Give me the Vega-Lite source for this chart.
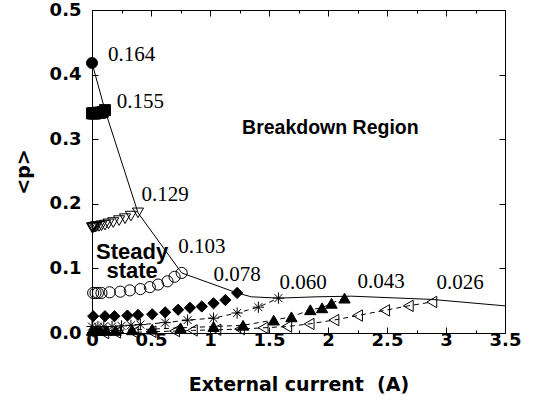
{
  "$schema": "https://vega.github.io/schema/vega-lite/v6.json",
  "width": 413,
  "height": 323,
  "autosize": {"type": "none"},
  "padding": {"left": 92, "top": 10, "right": 28, "bottom": 69},
  "background": "white",
  "config": {
    "view": {"stroke": "black", "strokeWidth": 1},
    "axis": {
      "labelFont": "DejaVu Sans", "labelFontWeight": "bold", "labelFontSize": 18, "labelColor": "black",
      "titleFont": "DejaVu Sans", "titleFontWeight": "bold", "titleFontSize": 19, "titleColor": "black",
      "domainColor": "black", "tickColor": "black", "grid": false
    }
  },
  "datasets": {
    "pts": [
      {"s": "c", "x": 0, "y": 0.418},
      {"s": "sq", "x": 0, "y": 0.340}, {"s": "sq", "x": 0.01, "y": 0.340}, {"s": "sq", "x": 0.02, "y": 0.340}, {"s": "sq", "x": 0.03, "y": 0.340},
      {"s": "sq", "x": 0.05, "y": 0.341}, {"s": "sq", "x": 0.07, "y": 0.341}, {"s": "sq", "x": 0.09, "y": 0.342}, {"s": "sq", "x": 0.11, "y": 0.345},
      {"s": "td", "x": 0, "y": 0.163}, {"s": "td", "x": 0.005, "y": 0.163}, {"s": "td", "x": 0.01, "y": 0.163}, {"s": "td", "x": 0.02, "y": 0.164},
      {"s": "td", "x": 0.03, "y": 0.164}, {"s": "td", "x": 0.04, "y": 0.165}, {"s": "td", "x": 0.06, "y": 0.165}, {"s": "td", "x": 0.08, "y": 0.166},
      {"s": "td", "x": 0.11, "y": 0.167}, {"s": "td", "x": 0.14, "y": 0.169}, {"s": "td", "x": 0.18, "y": 0.171}, {"s": "td", "x": 0.23, "y": 0.174},
      {"s": "td", "x": 0.28, "y": 0.177}, {"s": "td", "x": 0.33, "y": 0.181}, {"s": "td", "x": 0.39, "y": 0.186},
      {"s": "oc", "x": 0.01, "y": 0.062}, {"s": "oc", "x": 0.03, "y": 0.062}, {"s": "oc", "x": 0.05, "y": 0.062}, {"s": "oc", "x": 0.08, "y": 0.062},
      {"s": "oc", "x": 0.15, "y": 0.063}, {"s": "oc", "x": 0.24, "y": 0.064}, {"s": "oc", "x": 0.32, "y": 0.066}, {"s": "oc", "x": 0.41, "y": 0.068},
      {"s": "oc", "x": 0.49, "y": 0.071}, {"s": "oc", "x": 0.56, "y": 0.075}, {"s": "oc", "x": 0.64, "y": 0.080}, {"s": "oc", "x": 0.70, "y": 0.087},
      {"s": "oc", "x": 0.76, "y": 0.093},
      {"s": "d", "x": 0.01, "y": 0.026}, {"s": "d", "x": 0.11, "y": 0.026}, {"s": "d", "x": 0.19, "y": 0.026}, {"s": "d", "x": 0.30, "y": 0.027},
      {"s": "d", "x": 0.39, "y": 0.028}, {"s": "d", "x": 0.51, "y": 0.029}, {"s": "d", "x": 0.62, "y": 0.032}, {"s": "d", "x": 0.73, "y": 0.036},
      {"s": "d", "x": 0.83, "y": 0.039}, {"s": "d", "x": 0.93, "y": 0.041}, {"s": "d", "x": 1.03, "y": 0.046}, {"s": "d", "x": 1.13, "y": 0.051},
      {"s": "d", "x": 1.23, "y": 0.062},
      {"s": "st", "x": 0, "y": 0.010}, {"s": "st", "x": 0.05, "y": 0.010}, {"s": "st", "x": 0.10, "y": 0.010}, {"s": "st", "x": 0.17, "y": 0.010},
      {"s": "st", "x": 0.25, "y": 0.011}, {"s": "st", "x": 0.33, "y": 0.012}, {"s": "st", "x": 0.41, "y": 0.013}, {"s": "st", "x": 0.62, "y": 0.016},
      {"s": "st", "x": 0.81, "y": 0.020}, {"s": "st", "x": 1.03, "y": 0.023}, {"s": "st", "x": 1.23, "y": 0.031}, {"s": "st", "x": 1.41, "y": 0.040},
      {"s": "st", "x": 1.58, "y": 0.054},
      {"s": "tu", "x": 0, "y": 0.004}, {"s": "tu", "x": 0.03, "y": 0.004}, {"s": "tu", "x": 0.07, "y": 0.004}, {"s": "tu", "x": 0.12, "y": 0.004},
      {"s": "tu", "x": 0.20, "y": 0.004}, {"s": "tu", "x": 0.34, "y": 0.005}, {"s": "tu", "x": 0.51, "y": 0.006}, {"s": "tu", "x": 0.75, "y": 0.008},
      {"s": "tu", "x": 1.03, "y": 0.010}, {"s": "tu", "x": 1.28, "y": 0.012}, {"s": "tu", "x": 1.54, "y": 0.020}, {"s": "tu", "x": 1.69, "y": 0.025},
      {"s": "tu", "x": 1.85, "y": 0.036}, {"s": "tu", "x": 1.95, "y": 0.039}, {"s": "tu", "x": 2.03, "y": 0.046}, {"s": "tu", "x": 2.14, "y": 0.054},
      {"s": "tl", "x": 0, "y": 0.0}, {"s": "tl", "x": 0.10, "y": 0.0}, {"s": "tl", "x": 0.20, "y": 0.001}, {"s": "tl", "x": 0.35, "y": 0.001},
      {"s": "tl", "x": 0.50, "y": 0.002}, {"s": "tl", "x": 0.70, "y": 0.003}, {"s": "tl", "x": 0.85, "y": 0.004}, {"s": "tl", "x": 1.05, "y": 0.005},
      {"s": "tl", "x": 1.25, "y": 0.006}, {"s": "tl", "x": 1.45, "y": 0.008}, {"s": "tl", "x": 1.65, "y": 0.010}, {"s": "tl", "x": 1.84, "y": 0.014},
      {"s": "tl", "x": 2.05, "y": 0.020}, {"s": "tl", "x": 2.25, "y": 0.027}, {"s": "tl", "x": 2.48, "y": 0.035}, {"s": "tl", "x": 2.68, "y": 0.042},
      {"s": "tl", "x": 2.88, "y": 0.048}
    ],
    "env": [
      {"x": 0, "y": 0.418}, {"x": 0.11, "y": 0.345}, {"x": 0.39, "y": 0.186}, {"x": 0.76, "y": 0.093}, {"x": 1.23, "y": 0.062},
      {"x": 1.35, "y": 0.056}, {"x": 1.58, "y": 0.054}, {"x": 1.9, "y": 0.056}, {"x": 2.2, "y": 0.057}, {"x": 2.88, "y": 0.052}, {"x": 3.5, "y": 0.042}
    ],
    "labels": [
      {"t": "0.164", "x": 0.136, "y": 0.430},
      {"t": "0.155", "x": 0.21, "y": 0.358},
      {"t": "0.129", "x": 0.42, "y": 0.214},
      {"t": "0.103", "x": 0.73, "y": 0.133},
      {"t": "0.078", "x": 1.03, "y": 0.090},
      {"t": "0.060", "x": 1.59, "y": 0.077},
      {"t": "0.043", "x": 2.25, "y": 0.079},
      {"t": "0.026", "x": 2.92, "y": 0.077}
    ],
    "bold": [
      {"t": "Breakdown Region", "x": 2.02, "y": 0.317, "fs": 19.5},
      {"t": "Steady", "x": 0.34, "y": 0.125, "fs": 22},
      {"t": "state", "x": 0.34, "y": 0.096, "fs": 22}
    ]
  },
  "layer": [
    {
      "data": {"name": "env"},
      "mark": {"type": "line", "color": "black", "strokeWidth": 1},
      "encoding": {
        "x": {"field": "x", "type": "quantitative", "scale": {"domain": [0, 3.5], "nice": false},
          "axis": {"orient": "bottom", "title": "External current \u00a0(A)", "values": [0,0.25,0.5,0.75,1,1.25,1.5,1.75,2,2.25,2.5,2.75,3,3.25,3.5],
            "labelExpr": "(datum.value * 2) % 1 == 0 ? format(datum.value, '~g') : ''",
            "tickSize": {"condition": {"test": "(datum.value * 2) % 1 == 0", "value": -6}, "value": -3},
            "labelPadding": 4, "titlePadding": 23, "labelFlush": false, "labelOverlap": false}},
        "y": {"field": "y", "type": "quantitative", "scale": {"domain": [0, 0.5], "nice": false},
          "axis": {"orient": "left", "title": "<p>", "values": [0,0.1,0.2,0.3,0.4,0.5], "format": ".1f", "tickSize": -6,
            "labelPadding": 17, "titlePadding": 16, "labelFlush": false}}
      }
    },
    {
      "data": {"name": "env"},
      "mark": {"type": "point", "opacity": 0},
      "encoding": {
        "x": {"field": "x", "type": "quantitative", "scale": {"domain": [0, 3.5], "nice": false},
          "axis": {"orient": "top", "title": null, "labels": false, "values": [0,0.25,0.5,0.75,1,1.25,1.5,1.75,2,2.25,2.5,2.75,3,3.25,3.5],
            "tickSize": {"condition": {"test": "(datum.value * 2) % 1 == 0", "value": -6}, "value": -3}}},
        "y": {"field": "y", "type": "quantitative", "scale": {"domain": [0, 0.5], "nice": false},
          "axis": {"orient": "right", "title": null, "labels": false, "values": [0,0.1,0.2,0.3,0.4,0.5], "tickSize": -6}}
      }
    },
    {
      "data": {"name": "pts"},
      "transform": [{"filter": "datum.s == 'st' || datum.s == 'tu' || datum.s == 'tl'"}],
      "mark": {"type": "line", "color": "black", "strokeWidth": 1, "strokeDash": [5, 4]},
      "encoding": {
        "x": {"field": "x", "type": "quantitative", "axis": null},
        "y": {"field": "y", "type": "quantitative", "axis": null},
        "detail": {"field": "s"}
      }
    },
    {
      "data": {"name": "pts"},
      "mark": {"type": "point", "filled": true, "stroke": "black", "strokeWidth": 1, "opacity": 1},
      "encoding": {
        "x": {"field": "x", "type": "quantitative", "axis": null},
        "y": {"field": "y", "type": "quantitative", "axis": null},
        "shape": {"field": "s", "legend": null, "scale": {
          "domain": ["c", "sq", "td", "oc", "d", "st", "tu", "tl"],
          "range": ["circle", "square", "triangle-down", "circle", "diamond", "M-1,0L1,0M0,-1L0,1M-0.7,-0.7L0.7,0.7M-0.7,0.7L0.7,-0.7", "triangle-up", "triangle-left"]}},
        "fill": {"field": "s", "legend": null, "scale": {
          "domain": ["c", "sq", "td", "oc", "d", "st", "tu", "tl"],
          "range": ["black", "black", "transparent", "transparent", "black", "transparent", "black", "transparent"]}},
        "size": {"field": "s", "legend": null, "scale": {
          "domain": ["c", "sq", "td", "oc", "d", "st", "tu", "tl"],
          "range": [120, 130, 210, 140, 170, 230, 210, 200]}}
      }
    },
    {
      "data": {"name": "labels"},
      "mark": {"type": "text", "font": "Liberation Serif", "fontSize": 21, "align": "left", "baseline": "middle", "color": "black"},
      "encoding": {
        "x": {"field": "x", "type": "quantitative", "axis": null},
        "y": {"field": "y", "type": "quantitative", "axis": null},
        "text": {"field": "t"}
      }
    },
    {
      "data": {"name": "bold"},
      "mark": {"type": "text", "font": "Liberation Sans", "fontWeight": "bold", "align": "center", "baseline": "middle", "color": "black"},
      "encoding": {
        "x": {"field": "x", "type": "quantitative", "axis": null},
        "y": {"field": "y", "type": "quantitative", "axis": null},
        "text": {"field": "t"},
        "size": {"field": "fs", "type": "quantitative", "scale": null, "legend": null}
      }
    }
  ],
  "resolve": {"axis": {"x": "independent", "y": "independent"}}
}
